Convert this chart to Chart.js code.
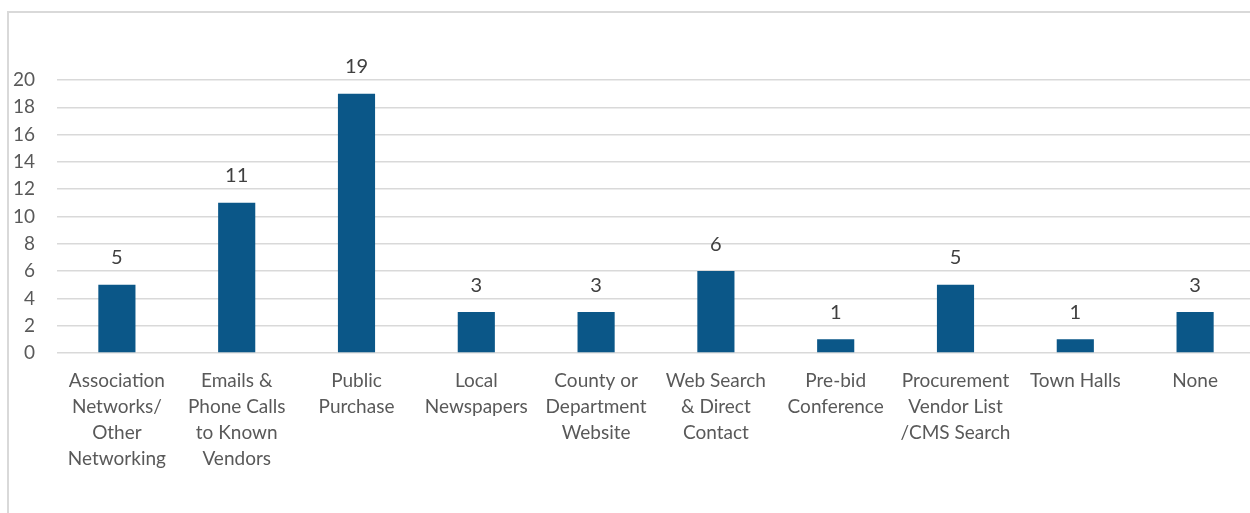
<!DOCTYPE html>
<html>
<head>
<meta charset="utf-8">
<script src="https://cdn.jsdelivr.net/npm/chart.js@4/dist/chart.umd.min.js"></script>
<style>
  html, body { margin: 0; padding: 0; background: #fff; overflow: hidden; }
  #frame {
    position: absolute; left: 7px; top: 11px;
    width: 1262px; height: 510px;
    border: 2px solid #d9d9d9;
  }
  #grafica { display: block; }
</style>
</head>
<body>
<div id="frame"><canvas id="grafica" width="1262" height="510"></canvas></div>
<script>
const categorias = [
  ['Association', 'Networks/', 'Other', 'Networking'],
  ['Emails &', 'Phone Calls', 'to Known', 'Vendors'],
  ['Public', 'Purchase'],
  ['Local', 'Newspapers'],
  ['County or', 'Department', 'Website'],
  ['Web Search', '& Direct', 'Contact'],
  ['Pre-bid', 'Conference'],
  ['Procurement', 'Vendor List', '/CMS Search'],
  ['Town Halls'],
  ['None']
];
const respuestas = [5, 11, 19, 3, 3, 6, 1, 5, 1, 3];
const yMax = 20;
const yPaso = 2;

const fuente = { family: 'Lato, "Open Sans", sans-serif', size: 19 };

// Valor encima de cada barra
const etiquetasValor = {
  id: 'etiquetasValor',
  afterDatasetsDraw(chart) {
    const ctx = chart.ctx;
    const meta = chart.getDatasetMeta(0);
    ctx.save();
    ctx.font = `20px ${fuente.family}`;
    ctx.fillStyle = '#404040';
    ctx.textAlign = 'center';
    ctx.textBaseline = 'middle';
    meta.data.forEach((bar, i) => {
      ctx.fillText(String(respuestas[i]), bar.x, bar.y - 27);
    });
    ctx.restore();
  }
};

const ctx = document.getElementById('grafica').getContext('2d');
new Chart(ctx, {
  type: 'bar',
  data: {
    labels: categorias,
    datasets: [{
      data: respuestas,
      backgroundColor: '#0b5788',
      borderWidth: 0,
      categoryPercentage: 1,
      barPercentage: 0.31
    }]
  },
  options: {
    responsive: false,
    animation: false,
    layout: { padding: { top: 67, right: 16, bottom: 50, left: 0 } },
    plugins: { legend: { display: false }, tooltip: { enabled: false } },
    scales: {
      x: {
        grid: { display: false, drawTicks: false },
        border: { display: false },
        ticks: {
          color: '#595959',
          font: { ...fuente, lineHeight: 26 / 19 },
          padding: 15,
          maxRotation: 0,
          autoSkip: false
        },
        afterFit(s) { s.height = 120; }
      },
      y: {
        min: 0,
        max: yMax,
        grid: { color: '#d9d9d9', lineWidth: 1.5, drawTicks: false },
        border: { display: false },
        ticks: { stepSize: yPaso, color: '#595959', font: fuente, padding: 22 },
        afterFit(s) { s.width = 48; }
      }
    }
  },
  plugins: [etiquetasValor]
});
</script>
</body>
</html>
